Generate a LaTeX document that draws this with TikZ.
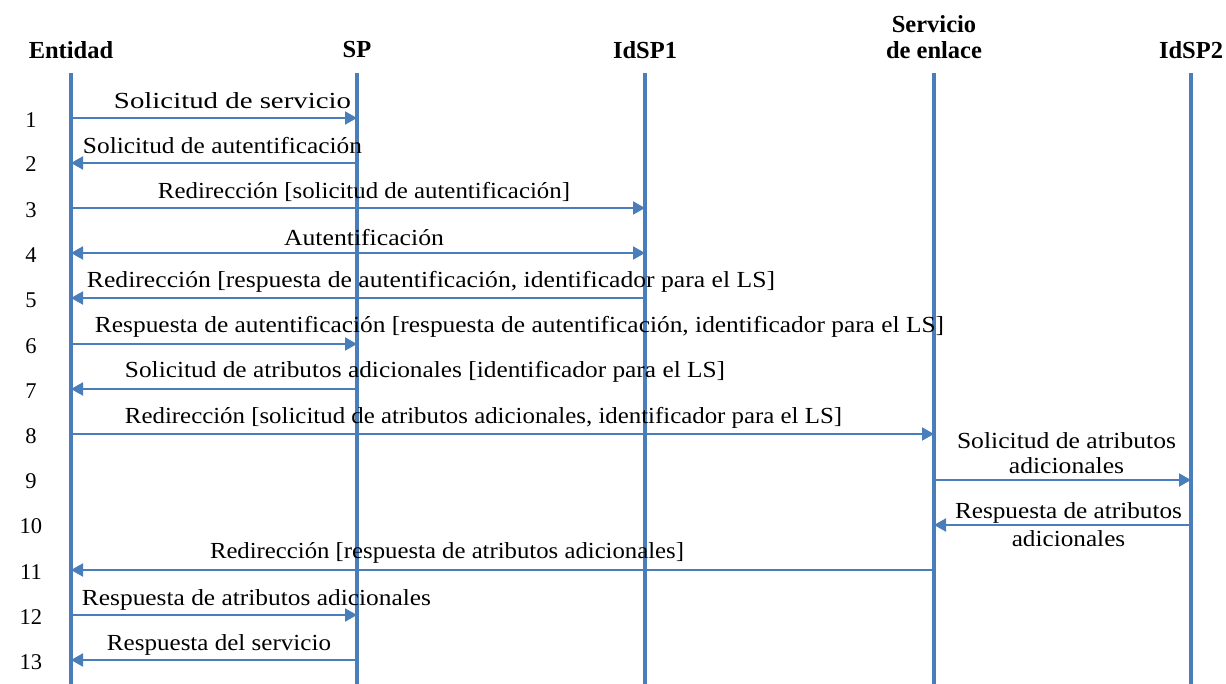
\documentclass[tikz,border=0pt]{standalone}
\usepackage{fontspec}
\setmainfont{Liberation Serif}
\usepackage{graphicx}
\usetikzlibrary{arrows.meta}
\definecolor{lineblue}{HTML}{4A7EBB}
\newcommand\fitw[2]{\resizebox{#1pt}{\height}{#2}}
\begin{document}
\begin{tikzpicture}[x=1pt,y=-1pt,
  head/.style={font=\bfseries\fontsize{24.5}{26}\selectfont, inner sep=0pt, align=center},
  num/.style={font=\fontsize{22.5}{24}\selectfont, inner sep=0pt},
  lbl/.style={font=\fontsize{23}{25}\selectfont, inner sep=0pt, align=center},
  life/.style={draw=lineblue, line width=3.2pt},
  msg/.style={draw=lineblue, line width=2pt, -{Triangle[length=12pt,width=13pt]}},
  msgboth/.style={draw=lineblue, line width=2pt, {Triangle[length=12pt,width=13pt]}-{Triangle[length=12pt,width=13pt]}}]
\useasboundingbox (0,0) rectangle (1226,684);
% heads
\node[head] (hE) at (71,50) {Entidad};
\node[head] (hS) at (357,50) {SP};
\node[head] (hI1) at (645,50) {IdSP1};
\node[head] (hL) at (934,37) {Servicio\\de enlace};
\node[head] (hI2) at (1191,50) {IdSP2};
% lifeline ends
\foreach \n/\x in {E/71,S/357,I1/645,L/934,I2/1191}{
  \coordinate (t\n) at (\x,73);
  \coordinate (b\n) at (\x,684);
  \draw[life] (t\n) -- (b\n);
}
% rows
\foreach \i/\y/\ny in {1/118/120,2/163/164,3/208/210,4/253/255,5/298/300,6/344/346,7/389/391,8/434/436,9/480/481,10/525/526,11/570/572,12/615/617,13/660/662}{
  \coordinate (r\i) at (0,\y);
  \node[num] (n\i) at (31,\ny) {\i};
}
% messages
\draw[msg] (tE |- r1) -- (tS |- r1);
\draw[msg] (tS |- r2) -- (tE |- r2);
\draw[msg] (tE |- r3) -- (tI1 |- r3);
\draw[msgboth] (tE |- r4) -- (tI1 |- r4);
\draw[msg] (tI1 |- r5) -- (tE |- r5);
\draw[msg] (tE |- r6) -- (tS |- r6);
\draw[msg] (tS |- r7) -- (tE |- r7);
\draw[msg] (tE |- r8) -- (tL |- r8);
\draw[msg] (tL |- r9) -- (tI2 |- r9);
\draw[msg] (tI2 |- r10) -- (tL |- r10);
\draw[msg] (tL |- r11) -- (tE |- r11);
\draw[msg] (tE |- r12) -- (tS |- r12);
\draw[msg] (tS |- r13) -- (tE |- r13);
% labels
\node[lbl] (l1) at (232.5,101) {\fitw{237}{Solicitud de servicio}};
\node[lbl] (l2) at (222.5,146) {\fitw{279}{Solicitud de autentificación}};
\node[lbl] (l3) at (364,192) {\fitw{412}{Redirección [solicitud de autentificación]}};
\node[lbl] (l4) at (364,238) {\fitw{160}{Autentificación}};
\node[lbl] (l5) at (431,282) {\fitw{688}{Redirección [respuesta de autentificación, identificador para el LS]}};
\node[lbl] (l6) at (519.5,327) {\fitw{849}{Respuesta de autentificación [respuesta de autentificación, identificador para el LS]}};
\node[lbl] (l7) at (425,372) {\fitw{600}{Solicitud de atributos adicionales [identificador para el LS]}};
\node[lbl] (l8) at (483.5,418) {\fitw{717}{Redirección [solicitud de atributos adicionales, identificador para el LS]}};
\node[lbl] (l9) at (1066.5,456) {\fitw{219}{\begin{tabular}{@{}c@{}}Solicitud de atributos\\[-1pt]adicionales\end{tabular}}};
\node[lbl] (l10) at (1068.5,527) {\fitw{227}{\begin{tabular}{@{}c@{}}Respuesta de atributos\\[3pt]adicionales\end{tabular}}};
\node[lbl] (l11) at (447,553) {\fitw{474}{Redirección [respuesta de atributos adicionales]}};
\node[lbl] (l12) at (256.5,600) {\fitw{349}{Respuesta de atributos adicionales}};
\node[lbl] (l13) at (219,645) {\fitw{224}{Respuesta del servicio}};
\end{tikzpicture}
\end{document}
